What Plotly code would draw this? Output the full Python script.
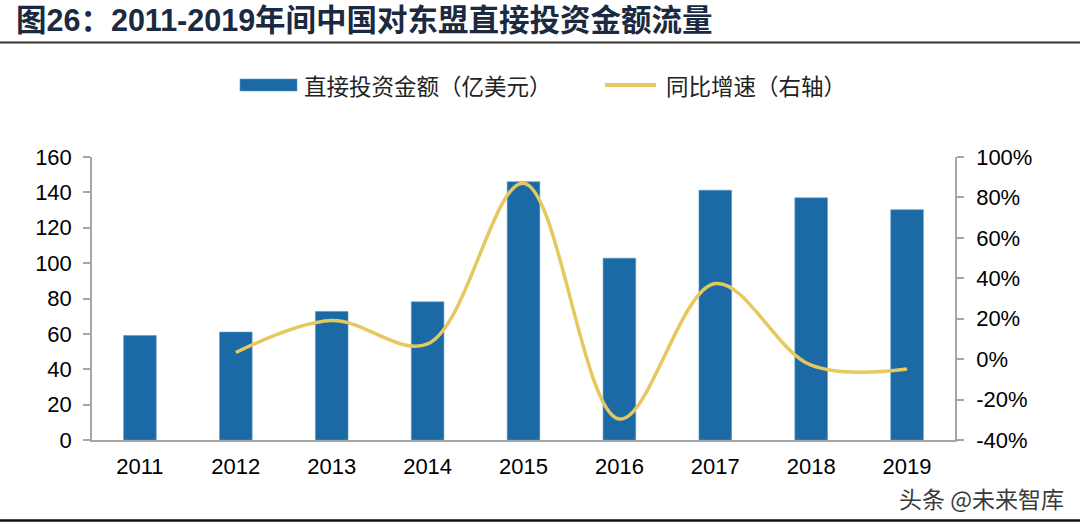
import plotly.graph_objects as go

years = ["2011", "2012", "2013", "2014", "2015", "2016", "2017", "2018", "2019"]
invest = [59.1, 61.0, 72.7, 78.1, 146.0, 102.8, 141.2, 136.9, 130.2]
growth_years = ["2012", "2013", "2014", "2015", "2016", "2017", "2018", "2019"]
growth = [0.033, 0.191, 0.075, 0.870, -0.296, 0.374, -0.030, -0.049]
left_ticks = [0, 20, 40, 60, 80, 100, 120, 140, 160]
right_ticks = [-0.4, -0.2, 0.0, 0.2, 0.4, 0.6, 0.8, 1.0]
right_tick_labels = ["-40%", "-20%", "0%", "20%", "40%", "60%", "80%", "100%"]

W, H = 1080, 526
L, R, T, B = 92, 125, 157, 86
PW = W - L - R
PH = H - T - B

def px(x):
    return (x - L) / PW

def py(y):
    return (H - B - y) / PH

BAR_COLOR = "#1B6AA5"
LINE_COLOR = "#E6C85E"
AXIS_COLOR = "#A6A6A6"
NUM_FONT = "Liberation Sans, Arial, Noto Sans CJK SC, sans-serif"
CJK_FONT = "Noto Sans CJK SC, sans-serif"

fig = go.Figure()
fig.add_trace(go.Bar(
    x=years, y=invest, name="直接投资金额（亿美元）",
    marker=dict(color=BAR_COLOR, line=dict(color="#5A95C4", width=0.6)),
    width=0.34, yaxis="y",
))
fig.add_trace(go.Scatter(
    x=growth_years, y=growth, name="同比增速（右轴）",
    mode="lines", line=dict(color=LINE_COLOR, width=3.5, shape="spline", smoothing=1.0),
    yaxis="y2",
))

fig.update_layout(
    width=W, height=H,
    margin=dict(l=L, r=R, t=T, b=B),
    paper_bgcolor="white", plot_bgcolor="white",
    showlegend=False,
    xaxis=dict(
        type="category", showline=True, linecolor=AXIS_COLOR, linewidth=1.5,
        ticks="", showgrid=False, tickfont=dict(family=NUM_FONT, size=22, color="#000"),
        ticklabelstandoff=6, range=[-0.5, 8.5],
    ),
    yaxis=dict(
        range=[0, 160], tickvals=left_ticks, showline=True, linecolor=AXIS_COLOR,
        linewidth=1.5, ticks="outside", ticklen=7, tickcolor=AXIS_COLOR, tickwidth=1.5,
        showgrid=False, zeroline=False,
        tickfont=dict(family=NUM_FONT, size=22, color="#000"), ticklabelstandoff=7,
    ),
    yaxis2=dict(
        range=[-0.4, 1.0], tickvals=right_ticks, ticktext=right_tick_labels,
        overlaying="y", side="right", showline=True, linecolor=AXIS_COLOR, linewidth=1.5,
        ticks="outside", ticklen=7, tickcolor=AXIS_COLOR, tickwidth=1.5,
        showgrid=False, zeroline=False,
        tickfont=dict(family=NUM_FONT, size=22, color="#000"), ticklabelstandoff=8,
    ),
    title=dict(
        text="<b>图26：2011-2019年间中国对东盟直接投资金额流量</b>",
        font=dict(family=NUM_FONT, size=30.5, color="#1B2A40"),
        xref="container", yref="container", x=16 / W, xanchor="left",
        y=1 - 20 / H, yanchor="middle",
    ),
)

shapes = [
    dict(type="line", xref="paper", yref="paper", x0=px(0), x1=px(W), y0=py(42.5), y1=py(42.5),
         line=dict(color="#333333", width=2.2)),
    dict(type="line", xref="paper", yref="paper", x0=px(0), x1=px(W), y0=py(520.5), y1=py(520.5),
         line=dict(color="#111111", width=2.5)),
    dict(type="rect", xref="paper", yref="paper", x0=px(240), x1=px(297), y0=py(91), y1=py(79),
         fillcolor=BAR_COLOR, line=dict(color="#5A95C4", width=0.6)),
    dict(type="line", xref="paper", yref="paper", x0=px(605), x1=px(656), y0=py(85), y1=py(85),
         line=dict(color=LINE_COLOR, width=4)),
]
fig.update_layout(shapes=shapes)

annotations = [
    dict(text="直接投资金额（亿美元）", xref="paper", yref="paper", x=px(302), y=py(85),
         xanchor="left", yanchor="middle", showarrow=False,
         font=dict(family=CJK_FONT, size=22.5, color="#222222")),
    dict(text="同比增速（右轴）", xref="paper", yref="paper", x=px(664), y=py(85),
         xanchor="left", yanchor="middle", showarrow=False,
         font=dict(family=CJK_FONT, size=22.5, color="#222222")),
    dict(text="头条 @未来智库", xref="paper", yref="paper", x=px(1066), y=py(498),
         xanchor="right", yanchor="middle", showarrow=False,
         font=dict(family=CJK_FONT, size=23, color="#3A3A3A")),
]
fig.update_layout(annotations=annotations)

fig.write_html(
    "out.html",
    config={"displayModeBar": False},
    post_script="document.body.style.margin='0';document.body.style.padding='0';",
)
